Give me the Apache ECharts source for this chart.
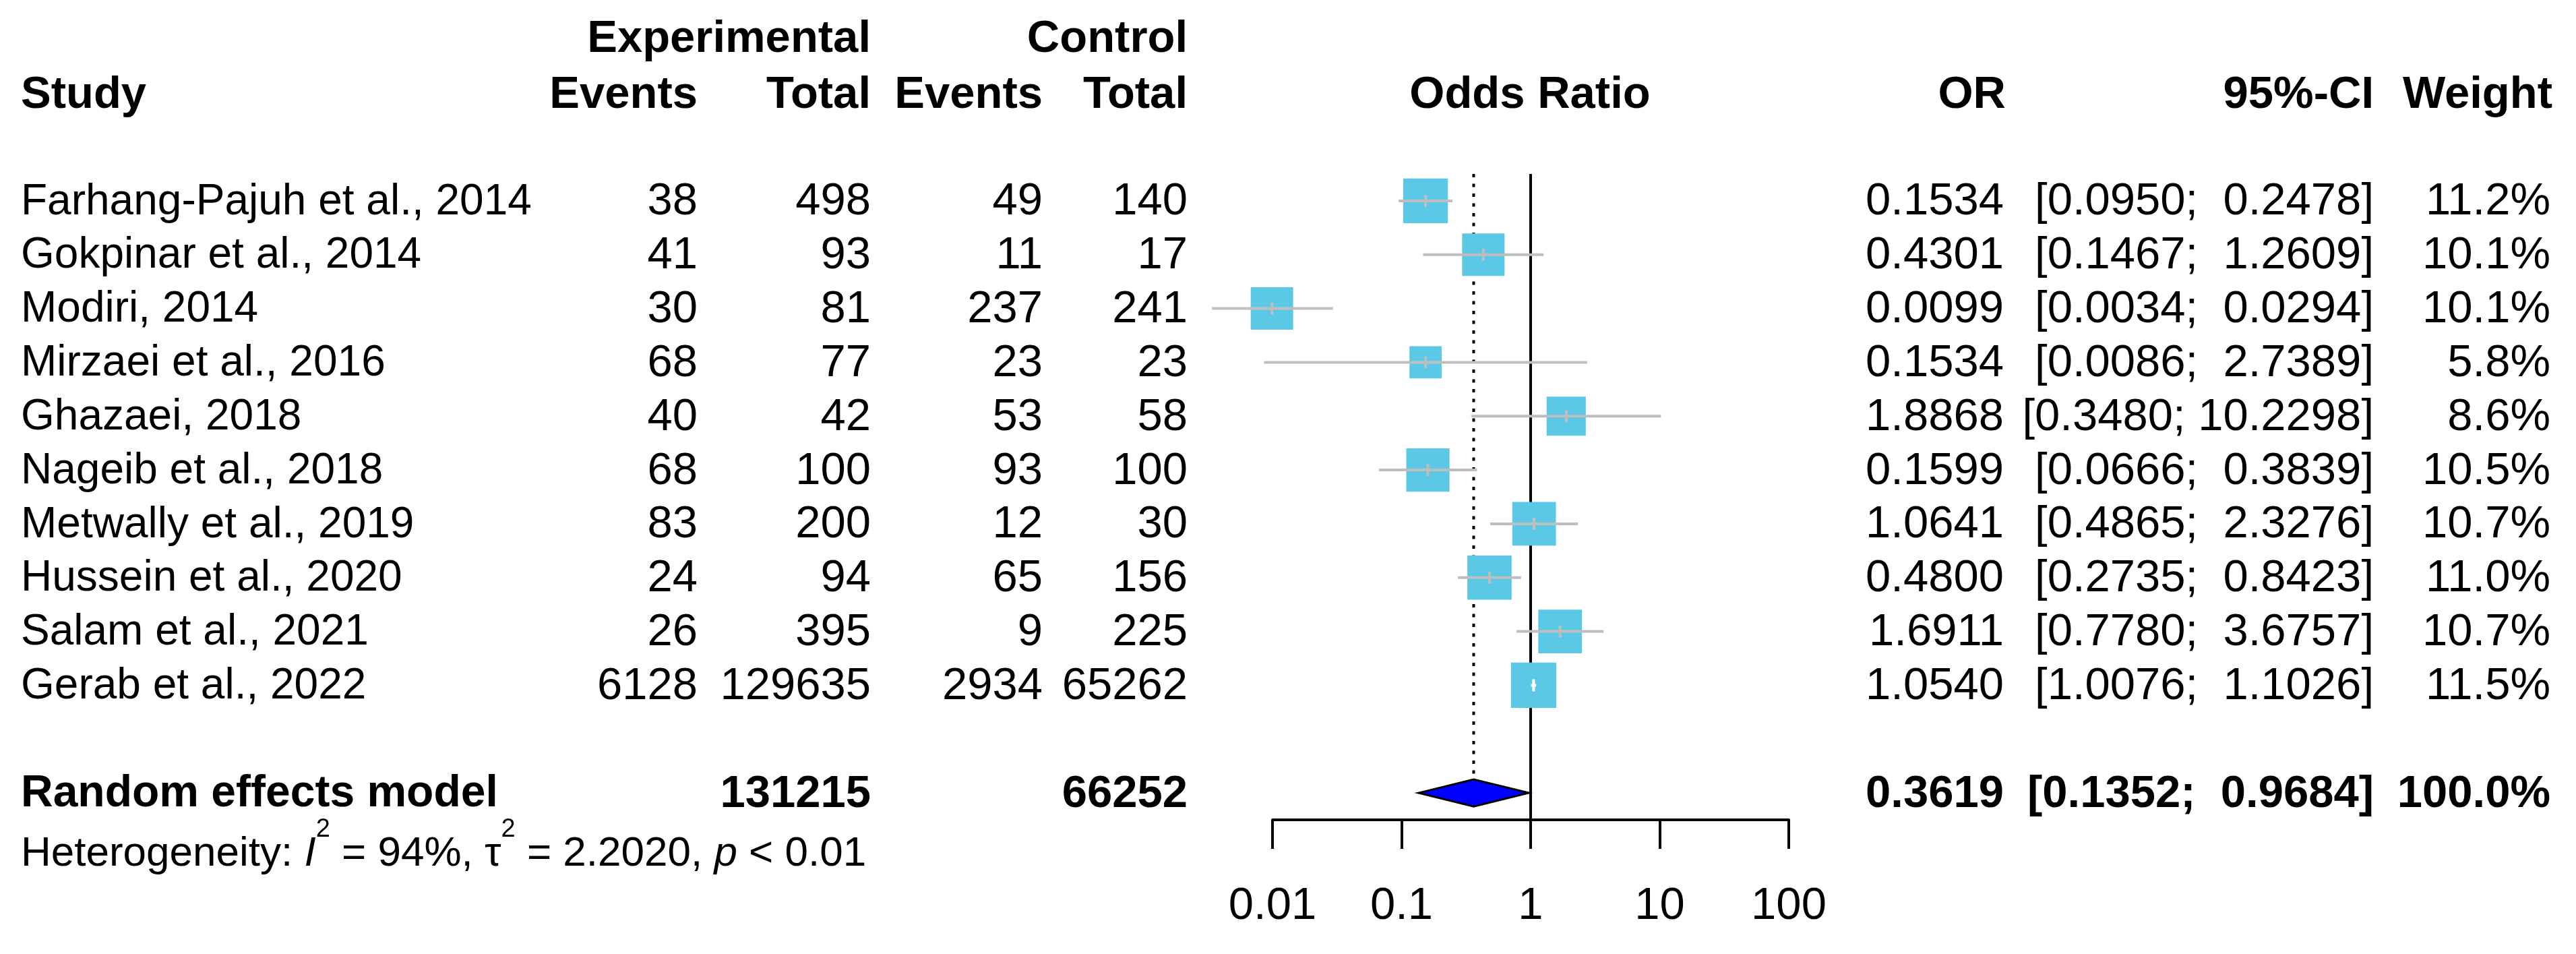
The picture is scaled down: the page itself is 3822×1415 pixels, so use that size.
<!DOCTYPE html>
<html><head><meta charset="utf-8">
<script src="https://cdn.jsdelivr.net/npm/echarts@6/dist/echarts.min.js"></script>
<style>html,body{margin:0;padding:0;background:#fff}#c{width:3822px;height:1415px}</style>
</head><body><div id="c"></div>
<script>
// ---------- data ----------
const studies = ['Farhang-Pajuh et al., 2014','Gokpinar et al., 2014','Modiri, 2014','Mirzaei et al., 2016','Ghazaei, 2018','Nageib et al., 2018','Metwally et al., 2019','Hussein et al., 2020','Salam et al., 2021','Gerab et al., 2022'];
const expEvents = [38, 41, 30, 68, 40, 68, 83, 24, 26, 6128];
const expTotal = [498, 93, 81, 77, 42, 100, 200, 94, 395, 129635];
const ctrlEvents = [49, 11, 237, 23, 53, 93, 12, 65, 9, 2934];
const ctrlTotal = [140, 17, 241, 23, 58, 100, 30, 156, 225, 65262];
const orValues = [0.1534, 0.4301, 0.0099, 0.1534, 1.8868, 0.1599, 1.0641, 0.4800, 1.6911, 1.0540];
const ciLower = [0.0950, 0.1467, 0.0034, 0.0086, 0.3480, 0.0666, 0.4865, 0.2735, 0.7780, 1.0076];
const ciUpper = [0.2478, 1.2609, 0.0294, 2.7389, 10.2298, 0.3839, 2.3276, 0.8423, 3.6757, 1.1026];
const weights = [11.2, 10.1, 10.1, 5.8, 8.6, 10.5, 10.7, 11.0, 10.7, 11.5];
const pooledLabel = 'Random effects model';
const pooledExpTotal = 131215;
const pooledCtrlTotal = 66252;
const pooledOR = 0.3619;
const pooledLower = 0.1352;
const pooledUpper = 0.9684;
const pooledWeight = 100.0;
const hetI2 = '94%';
const hetTau2 = '2.2020';
const hetP = '< 0.01';
const tickLabels = ['0.01', '0.1', '1', '10', '100'];
const pooledRow = 11;

// ---------- layout / style ----------
const FONT = '"Liberation Sans", Arial, Helvetica, sans-serif';
const FS = 67;        // numbers and headers
const FS_NAME = 64;   // study names
const FS_POOL = 66;   // pooled label
const FS_HET = 62;    // heterogeneity line
const COL = {study: 31, expEv: 1035, expTot: 1292, ctlEv: 1547, ctlTot: 1762, or: 2973, ci: 3522, w: 3784, odds: 2270};
const SQ_K = 19.8;
const SQUARE = '#5BC8E6';
const CI_COL = '#BEBEBE';
const DIAMOND_H = 20;

function fmtCI(lo, up) {
  const u = up.toFixed(4);
  return '[' + lo.toFixed(4) + ';' + (u.length < 7 ? '  ' : ' ') + u + ']';
}
function txt(text, x, y, align, bold, size) {
  return {type: 'text', x: x, y: y, silent: true,
    style: {text: String(text), align: align, verticalAlign: 'middle', fontSize: size || FS,
      fontFamily: FONT, fontWeight: bold ? 'bold' : 'normal', fill: '#000'}};
}

const rowData = studies.map((s, i) => [orValues[i], i, ciLower[i], ciUpper[i], weights[i]]);

const chart = echarts.init(document.getElementById('c'), null, {renderer: 'canvas'});

const header = [
  txt('Experimental', COL.expTot, 59, 'right', true),
  txt('Control', COL.ctlTot, 59, 'right', true),
  txt('Study', COL.study, 142, 'left', true),
  txt('Events', COL.expEv, 142, 'right', true),
  txt('Total', COL.expTot, 142, 'right', true),
  txt('Events', COL.ctlEv, 142, 'right', true),
  txt('Total', COL.ctlTot, 142, 'right', true),
  txt('Odds Ratio', COL.odds, 142, 'center', true),
  txt('OR', COL.or + 3, 142, 'right', true),
  txt('95%-CI', COL.ci, 142, 'right', true),
  txt('Weight', COL.w + 3, 142, 'right', true),
  {type: 'text', x: COL.study, y: 1267, silent: true,
    style: {
      text: '{n|Heterogeneity: }{it|I}{sup|2}{n| = ' + hetI2 + ', τ}{sup|2}{n| = ' + hetTau2 + ', }{it|p}{n| ' + hetP + '}',
      align: 'left', verticalAlign: 'middle',
      rich: {
        n: {fontSize: FS_HET, fontFamily: FONT, lineHeight: 110, fill: '#000'},
        it: {fontSize: FS_HET, fontFamily: FONT, fontStyle: 'italic', lineHeight: 110, fill: '#000'},
        sup: {fontSize: 38, fontFamily: FONT, lineHeight: 50, verticalAlign: 'top', fill: '#000'}
      }
    }}
];

const option = {
  backgroundColor: '#fff',
  animation: false,
  grid: {left: 1888, width: 766, top: 258, height: 958},
  xAxis: {
    type: 'log', logBase: 10, min: 0.01, max: 100, splitNumber: 4,
    axisLine: {show: true, onZero: false, lineStyle: {color: '#000', width: 4}},
    axisTick: {show: true, length: 43, lineStyle: {color: '#000', width: 4}},
    splitLine: {show: false},
    axisLabel: {
      margin: 95, fontSize: FS, fontFamily: FONT, color: '#000', lineHeight: FS,
      formatter: function (v) { return tickLabels[Math.round(Math.log10(v)) + 2]; }
    }
  },
  yAxis: {type: 'value', min: -0.5, max: 11.5, inverse: true, show: false},
  graphic: header,
  series: [
    { // reference lines: null effect (solid) and pooled estimate (dotted)
      type: 'custom', z: 1, clip: false, silent: true,
      data: [[1, pooledOR]],
      renderItem: function (params, api) {
        const top = api.coord([1, -0.5])[1];
        const bottom = api.coord([1, 11.5])[1];
        const x1 = api.coord([api.value(0), 0])[0];
        const xp = api.coord([api.value(1), 0])[0];
        const dEnd = api.coord([api.value(1), pooledRow])[1] - DIAMOND_H - 6;
        return {type: 'group', children: [
          {type: 'line', shape: {x1: x1, y1: top, x2: x1, y2: bottom}, style: {stroke: '#000', lineWidth: 4}},
          {type: 'line', shape: {x1: xp, y1: top, x2: xp, y2: dEnd}, style: {stroke: '#000', lineWidth: 4, lineDash: [5, 9.5]}}
        ]};
      }
    },
    { // squares
      type: 'custom', z: 2, clip: false, silent: true,
      data: rowData,
      renderItem: function (params, api) {
        const c = api.coord([api.value(0), api.value(1)]);
        const s = SQ_K * Math.sqrt(api.value(4));
        return {type: 'rect', shape: {x: c[0] - s / 2, y: c[1] - s / 2, width: s, height: s}, style: {fill: SQUARE}};
      }
    },
    { // confidence intervals
      type: 'custom', z: 3, clip: false, silent: true,
      data: rowData,
      renderItem: function (params, api) {
        const c = api.coord([api.value(0), api.value(1)]);
        const l = api.coord([api.value(2), api.value(1)]);
        const u = api.coord([api.value(3), api.value(1)]);
        const s = SQ_K * Math.sqrt(api.value(4));
        const inside = l[0] >= c[0] - s / 2 && u[0] <= c[0] + s / 2;
        const col = inside ? '#FFFFFF' : CI_COL;
        return {type: 'group', children: [
          {type: 'line', shape: {x1: l[0], y1: c[1], x2: u[0], y2: c[1]}, style: {stroke: col, lineWidth: 4}},
          {type: 'line', shape: {x1: c[0], y1: c[1] - 9, x2: c[0], y2: c[1] + 9}, style: {stroke: col, lineWidth: 4}}
        ]};
      }
    },
    { // pooled diamond
      type: 'custom', z: 4, clip: false, silent: true,
      data: [[pooledOR, pooledRow, pooledLower, pooledUpper]],
      renderItem: function (params, api) {
        const c = api.coord([api.value(0), api.value(1)]);
        const l = api.coord([api.value(2), api.value(1)]);
        const u = api.coord([api.value(3), api.value(1)]);
        return {type: 'polygon', shape: {points: [[l[0], c[1]], [c[0], c[1] - DIAMOND_H], [u[0], c[1]], [c[0], c[1] + DIAMOND_H]]},
          style: {fill: '#0000FF', stroke: '#000', lineWidth: 3}};
      }
    },
    { // study table text
      type: 'custom', z: 5, clip: false, silent: true,
      data: rowData,
      renderItem: function (params, api) {
        const i = params.dataIndex;
        const y = api.coord([1, api.value(1)])[1] + 2;
        return {type: 'group', children: [
          txt(studies[i], COL.study, y, 'left', false, FS_NAME),
          txt(expEvents[i], COL.expEv, y, 'right', false),
          txt(expTotal[i], COL.expTot, y, 'right', false),
          txt(ctrlEvents[i], COL.ctlEv, y, 'right', false),
          txt(ctrlTotal[i], COL.ctlTot, y, 'right', false),
          txt(orValues[i].toFixed(4), COL.or, y, 'right', false),
          txt(fmtCI(ciLower[i], ciUpper[i]), COL.ci, y, 'right', false),
          txt(weights[i].toFixed(1) + '%', COL.w, y, 'right', false)
        ]};
      }
    },
    { // pooled row text
      type: 'custom', z: 5, clip: false, silent: true,
      data: [[pooledOR, pooledRow]],
      renderItem: function (params, api) {
        const y = api.coord([1, api.value(1)])[1] + 2;
        return {type: 'group', children: [
          txt(pooledLabel, COL.study, y, 'left', true, FS_POOL),
          txt(pooledExpTotal, COL.expTot, y, 'right', true),
          txt(pooledCtrlTotal, COL.ctlTot, y, 'right', true),
          txt(pooledOR.toFixed(4), COL.or, y, 'right', true),
          txt(fmtCI(pooledLower, pooledUpper), COL.ci, y, 'right', true),
          txt(pooledWeight.toFixed(1) + '%', COL.w, y, 'right', true)
        ]};
      }
    }
  ]
};
chart.setOption(option);
</script>
</body></html>
